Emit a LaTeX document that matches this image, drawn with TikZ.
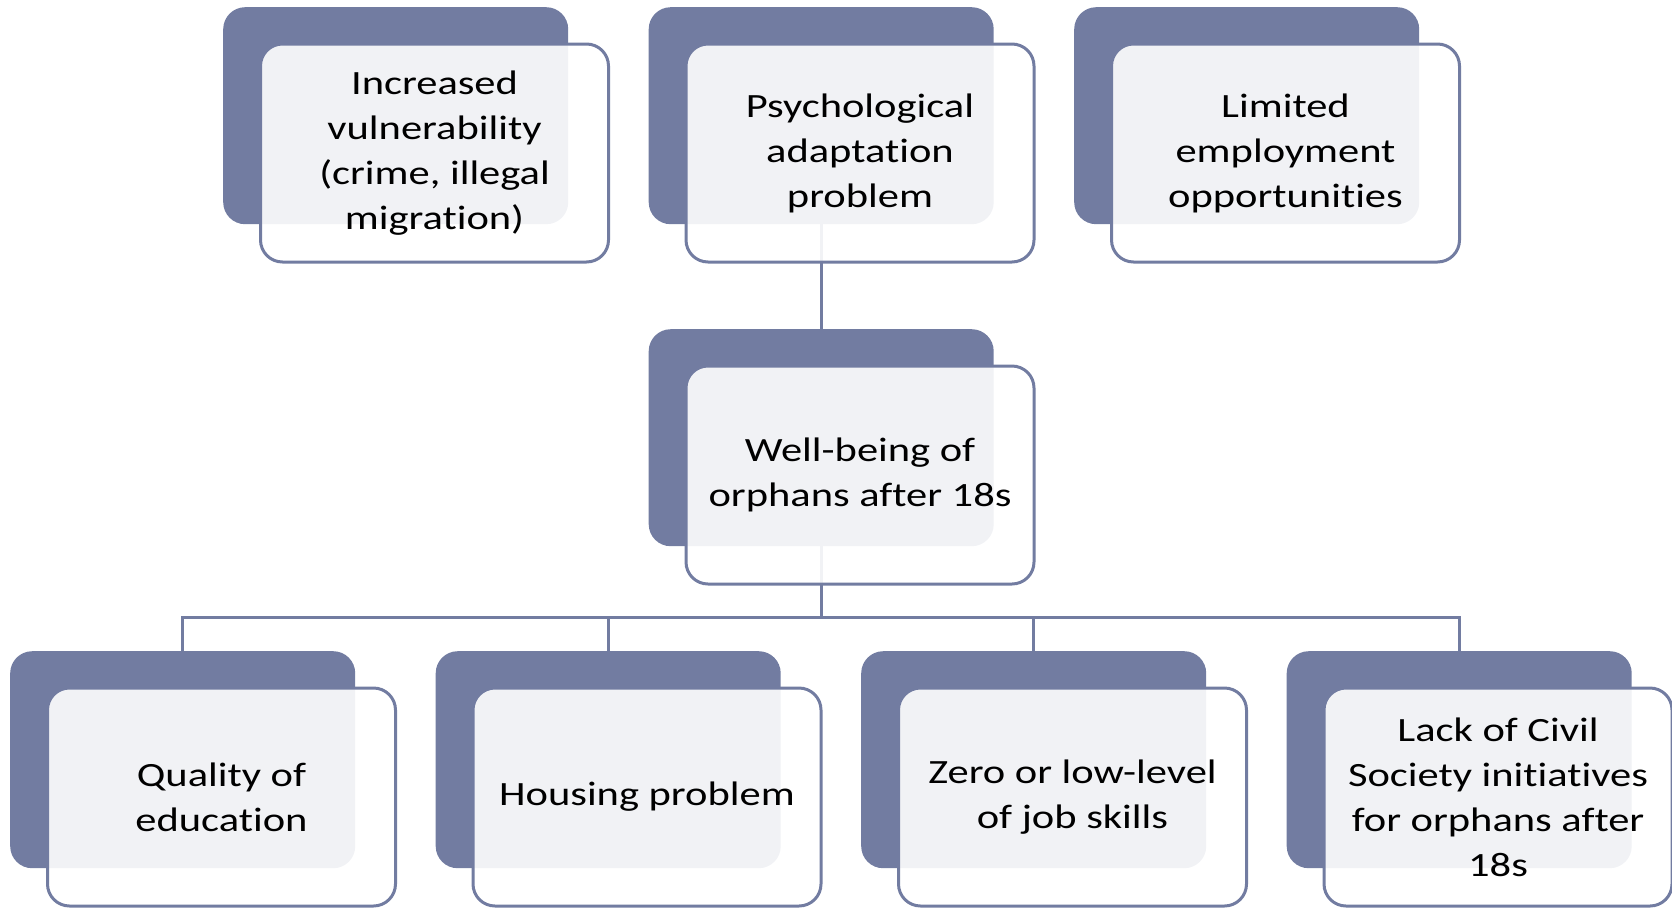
\documentclass[tikz,border=0pt]{standalone}
\usepackage{fontspec}
\setmainfont{Carlito}[FakeStretch=1.25,Ligatures=NoCommon]
\begin{document}
\begin{tikzpicture}[x=1pt,y=-1pt,
  darkbox/.style={draw=none, fill=boxdark, rounded corners=22pt, minimum width=345pt, minimum height=217pt, inner sep=0pt, anchor=north west},
  lightbox/.style={draw=boxdark, line width=3pt, fill=white, fill opacity=0.9, text opacity=1, rounded corners=22pt, minimum width=348pt, minimum height=218pt, inner sep=0pt, anchor=north west, align=center, font=\fontsize{34}{45}\selectfont, text=black},
  link/.style={draw=boxdark, line width=3pt}]
\definecolor{boxdark}{RGB}{114,124,161}
\useasboundingbox (0,0) rectangle (1672,908);
% dark back boxes
\node[darkbox] (dt1) at (223,7) {};
\node[darkbox] (dt2) at (648.5,7) {};
\node[darkbox] (dt3) at (1074,7) {};
\node[darkbox] (dc) at (648.5,329) {};
\node[darkbox] (db1) at (10,651) {};
\node[darkbox] (db2) at (435.5,651) {};
\node[darkbox] (db3) at (861,651) {};
\node[darkbox] (db4) at (1286.5,651) {};
% connectors
\coordinate (bar) at (0,617);
\draw[link] (dt2.south) -- (dc.north);
\draw[link] (dc.south) -- (dc.south |- bar) -| (db1.north);
\draw[link] (dc.south |- bar) -| (db2.north);
\draw[link] (dc.south |- bar) -| (db3.north);
\draw[link] (dc.south |- bar) -| (db4.north);
% front boxes
\node[lightbox] (lt1) at (259,42.5) {Increased\\vulnerability\\(crime, illegal\\migration)};
\node[lightbox] (lt2) at (684.5,42.5) {Psychological\\adaptation\\problem};
\node[lightbox] (lt3) at (1110,42.5) {Limited\\employment\\opportunities};
\node[lightbox] (lc) at (684.5,364.5) {Well-being of\\orphans after 18s};
\node[lightbox] (lb1) at (46,686.5) {Quality of\\education};
\node[lightbox] (lb2) at (471.5,686.5) {Housing problem};
\node[lightbox] (lb3) at (897,686.5) {Zero or low-level\\of job skills};
\node[lightbox] (lb4) at (1322.5,686.5) {Lack of Civil\\Society initiatives\\for orphans after\\18s};
\end{tikzpicture}
\end{document}
